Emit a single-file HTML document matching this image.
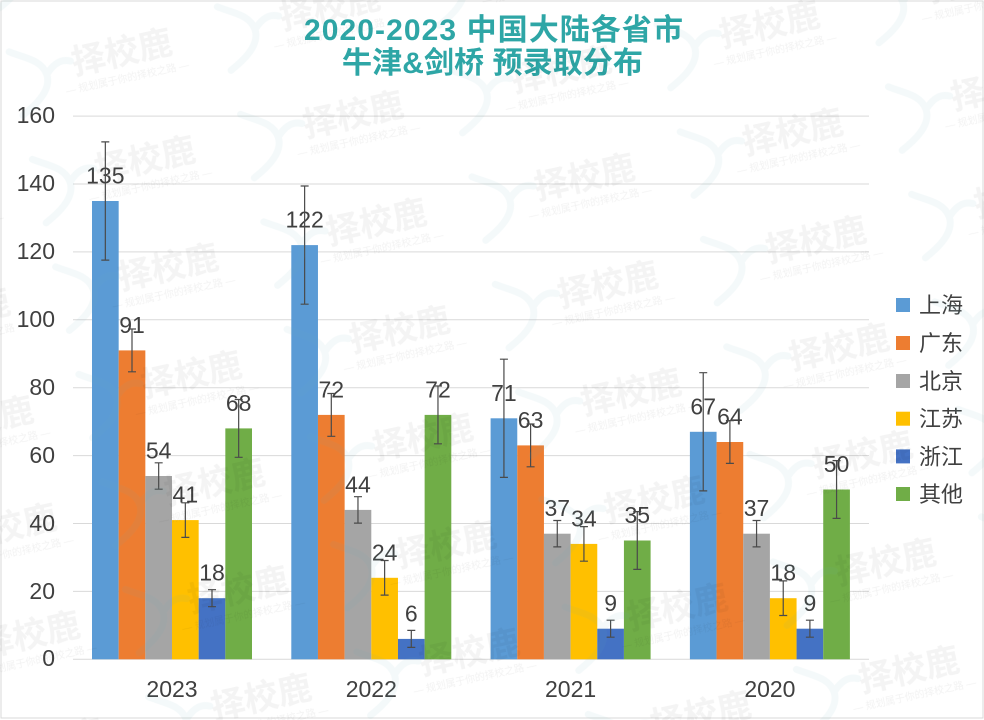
<!DOCTYPE html>
<html>
<head>
<meta charset="utf-8">
<style>
html,body{margin:0;padding:0;background:#fff;}
svg{display:block;}
text{font-family:"Liberation Sans","Noto Sans CJK SC",sans-serif;}
</style>
</head>
<body>
<svg width="984" height="720" viewBox="0 0 984 720" xmlns="http://www.w3.org/2000/svg">
<defs>
<pattern id="wm" width="213" height="110" patternUnits="userSpaceOnUse" patternTransform="translate(793 133) rotate(-12.2) translate(-140 -55)">
  <text x="140" y="66" font-size="34" font-weight="bold" text-anchor="middle" fill="#000" fill-opacity="0.045">择校鹿</text>
  <text x="140" y="84" font-size="10" text-anchor="middle" fill="#000" fill-opacity="0.05">— 规划属于你的择校之路 —</text>
  <path d="M30 30 C45 40 60 45 62 60 C64 78 40 90 30 95 M62 60 C72 50 80 48 88 52" stroke="#6aa9c0" stroke-opacity="0.07" stroke-width="7" fill="none" stroke-linecap="round"/>
</pattern>
</defs>
<rect x="0" y="0" width="984" height="720" fill="#fff"/>
<rect x="1" y="1" width="982" height="717" fill="none" stroke="#d9d9d9" stroke-width="1"/>

<!-- title -->
<text x="304" y="40" font-size="30" font-weight="bold" fill="#2EA6A6" textLength="379" lengthAdjust="spacing">2020-2023 中国大陆各省市</text>
<text x="342" y="73" font-size="30" font-weight="bold" fill="#2EA6A6" textLength="301" lengthAdjust="spacing">牛津&amp;剑桥 预录取分布</text>

<!-- gridlines -->
<g stroke="#d9d9d9" stroke-width="1">
<line x1="73" x2="869" y1="116.1" y2="116.1"/>
<line x1="73" x2="869" y1="184.0" y2="184.0"/>
<line x1="73" x2="869" y1="251.9" y2="251.9"/>
<line x1="73" x2="869" y1="319.8" y2="319.8"/>
<line x1="73" x2="869" y1="387.7" y2="387.7"/>
<line x1="73" x2="869" y1="455.6" y2="455.6"/>
<line x1="73" x2="869" y1="523.5" y2="523.5"/>
<line x1="73" x2="869" y1="591.4" y2="591.4"/>
<line x1="73" x2="869" y1="659.3" y2="659.3"/>
</g>

<!-- y tick labels -->
<g font-size="23" fill="#404040" text-anchor="end">
<text x="55" y="123">160</text>
<text x="55" y="191">140</text>
<text x="55" y="259">120</text>
<text x="55" y="327">100</text>
<text x="55" y="395">80</text>
<text x="55" y="463">60</text>
<text x="55" y="531">40</text>
<text x="55" y="599">20</text>
<text x="55" y="666">0</text>
</g>

<!-- bars -->
<g>
<rect x="92" y="201.0" width="26.67" height="458.3" fill="#5B9BD5"/>
<rect x="118.67" y="350.4" width="26.67" height="308.9" fill="#ED7D31"/>
<rect x="145.33" y="476.0" width="26.67" height="183.3" fill="#A5A5A5"/>
<rect x="172" y="520.1" width="26.67" height="139.2" fill="#FFC000"/>
<rect x="198.67" y="598.2" width="26.67" height="61.1" fill="#4472C4"/>
<rect x="225.33" y="428.4" width="26.67" height="230.9" fill="#70AD47"/>

<rect x="291.3" y="245.1" width="26.67" height="414.2" fill="#5B9BD5"/>
<rect x="317.97" y="414.9" width="26.67" height="244.4" fill="#ED7D31"/>
<rect x="344.63" y="509.9" width="26.67" height="149.4" fill="#A5A5A5"/>
<rect x="371.3" y="577.8" width="26.67" height="81.5" fill="#FFC000"/>
<rect x="397.97" y="638.9" width="26.67" height="20.4" fill="#4472C4"/>
<rect x="424.63" y="414.9" width="26.67" height="244.4" fill="#70AD47"/>

<rect x="490.6" y="418.3" width="26.67" height="241.0" fill="#5B9BD5"/>
<rect x="517.27" y="445.4" width="26.67" height="213.9" fill="#ED7D31"/>
<rect x="543.93" y="533.7" width="26.67" height="125.6" fill="#A5A5A5"/>
<rect x="570.6" y="543.9" width="26.67" height="115.4" fill="#FFC000"/>
<rect x="597.27" y="628.7" width="26.67" height="30.6" fill="#4472C4"/>
<rect x="623.93" y="540.5" width="26.67" height="118.8" fill="#70AD47"/>

<rect x="689.9" y="431.8" width="26.67" height="227.5" fill="#5B9BD5"/>
<rect x="716.57" y="442.0" width="26.67" height="217.3" fill="#ED7D31"/>
<rect x="743.23" y="533.7" width="26.67" height="125.6" fill="#A5A5A5"/>
<rect x="769.9" y="598.2" width="26.67" height="61.1" fill="#FFC000"/>
<rect x="796.57" y="628.7" width="26.67" height="30.6" fill="#4472C4"/>
<rect x="823.23" y="489.5" width="26.67" height="169.8" fill="#70AD47"/>
</g>

<!-- data labels -->
<g font-size="23" fill="#404040" text-anchor="middle">
<text x="105.33" y="183.5">135</text>
<text x="132" y="332.9">91</text>
<text x="158.67" y="458.5">54</text>
<text x="185.33" y="502.6">41</text>
<text x="212" y="580.7">18</text>
<text x="238.67" y="410.9">68</text>

<text x="304.63" y="227.6">122</text>
<text x="331.3" y="397.4">72</text>
<text x="357.97" y="492.4">44</text>
<text x="384.63" y="560.3">24</text>
<text x="411.3" y="621.4">6</text>
<text x="437.97" y="397.4">72</text>

<text x="503.93" y="400.8">71</text>
<text x="530.6" y="427.9">63</text>
<text x="557.27" y="516.2">37</text>
<text x="583.93" y="526.4">34</text>
<text x="610.6" y="611.2">9</text>
<text x="637.27" y="523.0">35</text>

<text x="703.23" y="414.3">67</text>
<text x="729.9" y="424.5">64</text>
<text x="756.57" y="516.2">37</text>
<text x="783.23" y="580.7">18</text>
<text x="809.9" y="611.2">9</text>
<text x="836.57" y="472.0">50</text>
</g>

<!-- error bars -->
<g stroke="#4a4a4a" stroke-width="1.2" fill="none">
<path d="M105.33 141.9V260.1M101.3 141.9H109.3M101.3 260.1H109.3"/>
<path d="M132 329.0V371.8M128 329.0H136M128 371.8H136"/>
<path d="M158.67 462.8V489.2M154.67 462.8H162.67M154.67 489.2H162.67"/>
<path d="M185.33 502.8V537.4M181.33 502.8H189.33M181.33 537.4H189.33"/>
<path d="M212 589.7V606.7M208 589.7H216M208 606.7H216"/>
<path d="M238.67 399.5V457.3M234.67 399.5H242.67M234.67 457.3H242.67"/>

<path d="M304.63 186.0V304.2M300.63 186.0H308.63M300.63 304.2H308.63"/>
<path d="M331.3 393.5V436.3M327.3 393.5H335.3M327.3 436.3H335.3"/>
<path d="M357.97 496.7V523.1M353.97 496.7H361.97M353.97 523.1H361.97"/>
<path d="M384.63 560.5V595.1M380.63 560.5H388.63M380.63 595.1H388.63"/>
<path d="M411.3 630.4V647.4M407.3 630.4H415.3M407.3 647.4H415.3"/>
<path d="M437.97 386.0V443.8M433.97 386.0H441.97M433.97 443.8H441.97"/>

<path d="M503.93 359.2V477.4M499.93 359.2H507.93M499.93 477.4H507.93"/>
<path d="M530.6 424.0V466.8M526.6 424.0H534.6M526.6 466.8H534.6"/>
<path d="M557.27 520.5V546.9M553.27 520.5H561.27M553.27 546.9H561.27"/>
<path d="M583.93 526.6V561.2M579.93 526.6H587.93M579.93 561.2H587.93"/>
<path d="M610.6 620.2V637.2M606.6 620.2H614.6M606.6 637.2H614.6"/>
<path d="M637.27 511.6V569.4M633.27 511.6H641.27M633.27 569.4H641.27"/>

<path d="M703.23 372.7V490.9M699.23 372.7H707.23M699.23 490.9H707.23"/>
<path d="M729.9 420.6V463.4M725.9 420.6H733.9M725.9 463.4H733.9"/>
<path d="M756.57 520.5V546.9M752.57 520.5H760.57M752.57 546.9H760.57"/>
<path d="M783.23 580.9V615.5M779.23 580.9H787.23M779.23 615.5H787.23"/>
<path d="M809.9 620.2V637.2M805.9 620.2H813.9M805.9 637.2H813.9"/>
<path d="M836.57 460.6V518.4M832.57 460.6H840.57M832.57 518.4H840.57"/>
</g>

<!-- category labels -->
<g font-size="23" fill="#404040" text-anchor="middle">
<text x="172" y="697">2023</text>
<text x="371.3" y="697">2022</text>
<text x="570.6" y="697">2021</text>
<text x="769.9" y="697">2020</text>
</g>

<!-- legend -->
<g>
<rect x="896" y="298" width="14" height="14" fill="#5B9BD5"/>
<rect x="896" y="336" width="14" height="14" fill="#ED7D31"/>
<rect x="896" y="374" width="14" height="14" fill="#A5A5A5"/>
<rect x="896" y="411.7" width="14" height="14" fill="#FFC000"/>
<rect x="896" y="449.4" width="14" height="14" fill="#4472C4"/>
<rect x="896" y="487" width="14" height="14" fill="#70AD47"/>
</g>
<g font-size="22" fill="#404040">
<text x="919" y="313">上海</text>
<text x="919" y="351">广东</text>
<text x="919" y="389">北京</text>
<text x="919" y="426.7">江苏</text>
<text x="919" y="464.4">浙江</text>
<text x="919" y="502">其他</text>
</g>

<!-- watermark overlay -->
<rect x="0" y="0" width="984" height="720" fill="url(#wm)" pointer-events="none"/>
</svg>
</body>
</html>
